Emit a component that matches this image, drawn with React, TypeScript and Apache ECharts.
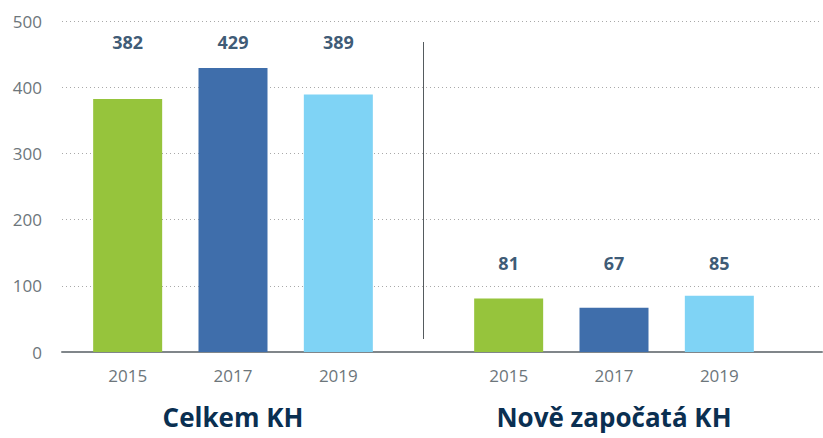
import React, { useEffect, useRef } from "react";
import * as echarts from "echarts";

const years = ["2015", "2017", "2019"];
const celkemValues = [382, 429, 389];
const noveValues = [81, 67, 85];
const groupNames = ["Celkem KH", "Nově započatá KH"];
const barColors = ["#96c43c", "#3f6eab", "#7fd3f5"];
const yTicks = [0, 100, 200, 300, 400, 500];

const NAVY = "#0a2f51";
const GRAY = "#6d767b";
const FONT = "'Open Sans', sans-serif";

export default function App() {
  const ref = useRef<HTMLDivElement>(null);
  useEffect(() => {
    if (!ref.current) return;
    const chart = echarts.init(ref.current, undefined, { renderer: "svg" });
    const top = 21;
    const bottom = 86;
    const groups = [celkemValues, noveValues];
    const groupGrids = [
      { left: 75, width: 316 },
      { left: 456, width: 316 },
    ];
    const labelPad = [39, 49];
    const grids: any[] = [{ left: 62, right: 1, top, bottom, outerBoundsMode: "none", containLabel: false }];
    const xAxes: any[] = [
      {
        type: "category",
        gridIndex: 0,
        data: [""],
        axisLine: { show: true, lineStyle: { color: "#80868a", width: 2 } },
        axisTick: { show: false },
        axisLabel: { show: false },
      },
    ];
    const yAxes: any[] = [
      {
        type: "value",
        gridIndex: 0,
        min: 0,
        max: 500,
        interval: 100,
        axisLine: { show: false },
        axisTick: { show: false },
        axisLabel: { color: GRAY, fontSize: 17, fontFamily: FONT, margin: 20 },
        splitLine: { lineStyle: { color: "#a9a9a9", type: [1, 3], width: 1 } },
      },
    ];
    const series: any[] = [];
    groups.forEach((vals, gi) => {
      const gIdx = gi + 1;
      grids.push({
        left: groupGrids[gi].left,
        width: groupGrids[gi].width,
        top,
        bottom,
        outerBoundsMode: "none",
        containLabel: false,
      });
      xAxes.push({
        type: "category",
        gridIndex: gIdx,
        data: years,
        axisLine: { show: false },
        axisTick: { show: false },
        axisLabel: { color: GRAY, fontSize: 17, fontFamily: FONT, margin: 15 },
        name: groupNames[gi],
        nameLocation: "middle",
        nameGap: 52,
        nameTextStyle: {
          color: NAVY,
          fontSize: 26,
          lineHeight: 26,
          fontWeight: "bold",
          fontFamily: FONT,
        },
      });
      yAxes.push({
        type: "value",
        gridIndex: gIdx,
        min: yTicks[0],
        max: yTicks[yTicks.length - 1],
        interval: 100,
        show: false,
        splitLine: { show: false },
      });
      series.push({
        type: "bar",
        xAxisIndex: gIdx,
        yAxisIndex: gIdx,
        barWidth: 69,
        data: vals.map((v, i) => ({ value: v, itemStyle: { color: barColors[i] } })),
      });
      const labelLevel = Math.max(...vals) + labelPad[gi];
      series.push({
        type: "scatter",
        xAxisIndex: gIdx,
        yAxisIndex: gIdx,
        symbolSize: 1,
        itemStyle: { color: "rgba(0,0,0,0)" },
        data: vals.map(() => labelLevel),
        label: {
          show: true,
          position: "inside",
          color: NAVY,
          fontSize: 18,
          fontWeight: "bold",
          fontFamily: FONT,
          formatter: (p: any) => String(vals[p.dataIndex]),
        },
      });
    });
    chart.setOption({
      animation: false,
      textStyle: { fontFamily: FONT },
      grid: grids,
      xAxis: xAxes,
      yAxis: yAxes,
      series,
      graphic: [
        {
          type: "line",
          shape: { x1: 423.5, y1: 42, x2: 423.5, y2: 339 },
          style: { stroke: "#555b5e", lineWidth: 1 },
        },
      ],
    });
    return () => chart.dispose();
  }, []);
  return (
    <div
      ref={ref}
      style={{ position: "fixed", left: 0, top: 0, width: 823, height: 438, background: "#fff" }}
    />
  );
}
